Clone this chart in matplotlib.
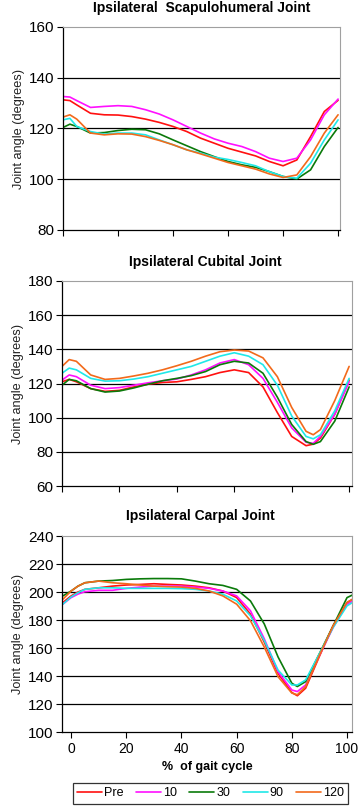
import matplotlib
matplotlib.use("Agg")
import matplotlib.pyplot as plt

plt.rcParams['font.family'] = ['Liberation Sans', 'DejaVu Sans']

series_labels = ["Pre", "10", "30", "90", "120"]
colors = ["#ff1010", "#ff10ff", "#0a7a0a", "#20e8e8", "#f26a1b"]

# Panel 1: Scapulohumeral
x1 = [0, 2.5, 5, 10, 15, 20, 25, 30, 35, 40, 45, 50, 55, 60, 65, 70, 75, 80, 85, 90, 95, 100]
sh_pre = [131.3, 131.0, 129.3, 126.0, 125.4, 125.3, 124.7, 123.7, 122.4, 120.8, 118.8, 116.2, 114.2, 112.2, 110.7, 109.2, 107.0, 105.3, 107.6, 116.8, 126.7, 131.1]
sh_10 = [132.6, 132.4, 131.0, 128.3, 128.7, 129.0, 128.7, 127.4, 125.7, 123.4, 120.8, 118.2, 115.9, 114.2, 112.9, 110.9, 108.3, 107.0, 108.3, 115.5, 125.4, 131.6]
sh_30 = [120.4, 121.7, 120.8, 118.2, 118.4, 119.2, 119.7, 119.5, 117.9, 115.5, 113.2, 110.9, 108.9, 107.0, 105.7, 104.7, 103.0, 101.1, 100.1, 103.7, 112.9, 120.4]
sh_90 = [123.4, 124.0, 120.8, 118.8, 117.8, 118.2, 118.2, 117.5, 115.5, 113.6, 111.6, 110.3, 108.7, 107.8, 106.6, 105.3, 103.0, 101.1, 100.4, 106.3, 115.5, 123.4]
sh_120 = [124.5, 125.4, 123.7, 118.2, 117.5, 117.9, 117.8, 116.8, 115.3, 113.6, 111.6, 110.0, 108.3, 106.6, 105.3, 104.0, 102.1, 100.7, 101.7, 108.9, 118.2, 125.4]

# Panel 2: Cubital
x2 = [0, 2.5, 5, 10, 15, 20, 25, 30, 35, 40, 45, 50, 55, 60, 65, 70, 75, 80, 85, 87.5, 90, 95, 100]
cu_pre = [121.0, 122.4, 121.0, 117.0, 115.4, 116.0, 118.0, 119.6, 120.6, 121.0, 122.4, 124.0, 126.4, 128.0, 126.4, 118.0, 103.0, 89.0, 83.6, 84.5, 88.0, 102.0, 122.0]
cu_10 = [122.0, 125.0, 124.0, 119.0, 117.0, 117.6, 119.0, 120.4, 121.6, 122.6, 125.0, 128.0, 132.0, 134.0, 131.0, 123.0, 109.0, 94.0, 85.6, 85.0, 89.0, 102.0, 121.0]
cu_30 = [119.0, 122.4, 121.6, 117.0, 115.0, 115.6, 117.4, 119.6, 121.6, 123.0, 124.6, 127.0, 131.0, 133.0, 132.0, 126.0, 112.0, 96.0, 86.0, 84.4, 86.0, 98.0, 118.0]
cu_90 = [126.0, 129.0, 128.0, 123.0, 121.4, 121.6, 122.6, 124.0, 126.0, 128.0, 130.0, 133.0, 136.0, 138.0, 136.0, 131.0, 119.0, 101.0, 89.0, 87.6, 90.0, 104.0, 123.0]
cu_120 = [130.0, 134.0, 133.0, 125.0, 122.4, 123.0, 124.4, 126.0, 128.0, 130.4, 133.0, 136.0, 138.6, 139.6, 139.0, 135.0, 124.0, 106.0, 92.0, 90.0, 93.0, 110.0, 130.0]

# Panel 3: Carpal
x3 = [-3, 0, 2.5, 5, 10, 15, 20, 25, 30, 35, 40, 45, 50, 55, 60, 65, 70, 75, 80, 82, 85, 90, 95, 100, 102]
ca_pre = [192.5, 197.2, 200.0, 201.9, 203.0, 204.2, 205.0, 205.4, 205.9, 205.4, 205.0, 204.2, 203.0, 200.7, 196.0, 184.2, 164.2, 141.9, 128.2, 125.9, 131.3, 154.1, 176.0, 192.5, 194.8]
ca_10 = [191.3, 196.0, 198.5, 200.2, 201.2, 201.2, 202.6, 203.5, 204.2, 204.2, 204.2, 203.5, 202.6, 200.7, 197.2, 186.6, 166.6, 143.0, 130.0, 128.9, 133.6, 154.8, 174.8, 191.3, 193.6]
ca_30 = [197.2, 200.7, 204.2, 206.6, 207.8, 208.2, 209.0, 209.4, 209.6, 209.6, 209.4, 207.8, 205.9, 204.7, 201.9, 193.6, 177.2, 153.6, 134.8, 132.5, 136.0, 156.0, 176.0, 196.0, 197.9]
ca_90 = [191.3, 196.5, 199.5, 201.9, 203.0, 203.0, 202.6, 202.6, 202.6, 202.6, 202.4, 201.9, 200.7, 198.4, 193.6, 183.0, 165.4, 144.2, 133.6, 133.6, 137.2, 156.0, 174.8, 190.1, 192.5]
ca_120 = [194.8, 200.7, 204.2, 206.6, 207.8, 206.6, 205.9, 205.0, 204.2, 203.8, 203.5, 202.6, 200.7, 197.2, 191.3, 179.5, 160.7, 139.5, 127.8, 126.6, 132.5, 154.8, 176.0, 192.5, 194.8]

fig = plt.figure(figsize=(3.58, 8.06), dpi=100)

panels = [
    ("Ipsilateral  Scapulohumeral Joint", x1, [sh_pre, sh_10, sh_30, sh_90, sh_120],
     [63, 27, 340, 230], (80, 160), (0, 100.7), False, 8, 202),
    ("Ipsilateral Cubital Joint", x2, [cu_pre, cu_10, cu_30, cu_90, cu_120],
     [62, 281, 352, 486], (60, 180), (0, 101), False, 262, 205),
    ("Ipsilateral Carpal Joint", x3, [ca_pre, ca_10, ca_30, ca_90, ca_120],
     [62, 536, 352, 732], (100, 240), (-3.3, 101.8), True, 516, 200),
]

W, H = 358, 806
lines = []
for title, xs, ys, box, ylim, xlim, labels, ty, tx in panels:
    l, t, r, b = box
    ax = fig.add_axes([l / W, 1 - b / H, (r - l) / W, (b - t) / H])
    for y, c, lab in zip(ys, colors, series_labels):
        ln, = ax.plot(xs, y, color=c, lw=1.2, label=lab, solid_capstyle='round')
        if labels:
            lines.append(ln)
    ax.set_ylim(*ylim)
    ax.set_xlim(*xlim)
    yt = list(range(ylim[0], ylim[1] + 1, 20))
    ax.set_yticks(yt)
    for v in yt[1:-1]:
        ax.axhline(v, color='black', lw=0.9, zorder=0)
    ax.set_xticks([0, 20, 40, 60, 80, 100])
    if labels:
        ax.set_xticklabels(['0', '20', '40', '60', '80', '100'], fontsize=10)
        ax.set_xlabel('%  of gait cycle', fontsize=9, fontweight='bold', labelpad=4)
    else:
        ax.set_xticklabels([])
    ax.tick_params(axis='y', labelsize=11, length=4, width=0.8, direction='out', pad=2)
    ax.tick_params(axis='x', length=4, width=0.8, direction='out', pad=3)
    for s in ['left', 'bottom']:
        ax.spines[s].set_color('black')
        ax.spines[s].set_linewidth(0.9)
    for s in ['top', 'right']:
        ax.spines[s].set_color('#a0a0a0')
        ax.spines[s].set_linewidth(0.8)
    ax.set_ylabel('Joint angle (degrees)', fontsize=9.2, color='#222222', labelpad=3)
    fig.text(tx / W, 1 - ty / H, title, ha='center', va='center', fontsize=10, fontweight='bold')

leg = fig.legend(handles=lines, labels=series_labels, ncol=5, loc='center',
                 bbox_to_anchor=(210.5 / W, 1 - 793.5 / H), fontsize=9, frameon=True,
                 fancybox=False, edgecolor='black', handlelength=2.0, handletextpad=0.15,
                 columnspacing=1.0, borderpad=0.35)
leg.get_frame().set_linewidth(0.9)

fig.savefig('out.png', dpi=100)
